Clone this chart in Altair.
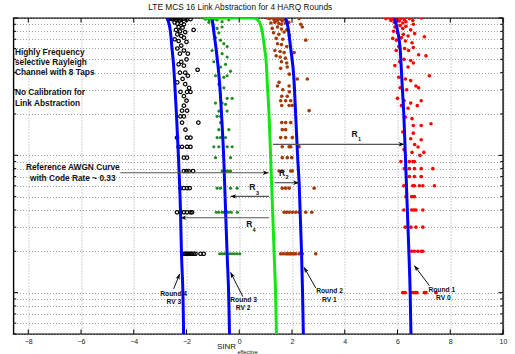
import altair as alt
import pandas as pd

# ---------------- data ----------------
x_ticks = [-8, -6, -4, -2, 0, 2, 4, 6, 8, 10]
y_grid = [0.005, 0.006, 0.007, 0.008, 0.009,
          0.01, 0.02, 0.03, 0.04, 0.05, 0.06, 0.07, 0.08, 0.09,
          0.1, 0.2, 0.3, 0.4, 0.5, 0.6, 0.7, 0.8, 0.9, 1.0]
y_decades = [0.01, 0.1, 1.0]

# Round 1 (RV 0) simulated points (red)
r1_upper = [(5.56, 0.99), (5.69, 1.0), (5.75, 0.96), (5.82, 0.98), (5.88, 0.93), (5.94, 1.0), (6.0, 0.97),
            (6.07, 0.95), (6.13, 0.99), (6.2, 0.92), (6.26, 0.97), (6.32, 0.94), (6.45, 0.99), (6.58, 0.96),
            (6.9, 1.0), (5.9, 0.86), (6.1, 0.88), (6.2, 0.84), (6.32, 0.87), (6.5, 0.82), (6.6, 0.9),
            (5.85, 0.80), (6.0, 0.78), (6.22, 0.76), (6.4, 0.74), (6.65, 0.77), (7.02, 0.73), (5.82, 0.71),
            (5.96, 0.69), (6.15, 0.72), (6.3, 0.68), (6.55, 0.66), (6.05, 0.62), (6.27, 0.60), (6.42, 0.58),
            (6.6, 0.61), (5.95, 0.58), (6.8, 0.54), (7.08, 0.53), (6.25, 0.50), (6.5, 0.49), (6.6, 0.47),
            (5.9, 0.45), (6.08, 0.48), (6.4, 0.44), (7.21, 0.38), (6.05, 0.37), (6.3, 0.36), (6.5, 0.35),
            (6.7, 0.32), (6.8, 0.31), (6.1, 0.31), (6.35, 0.30), (6.0, 0.26), (6.25, 0.25), (6.5, 0.24),
            (6.75, 0.23), (6.9, 0.25), (6.15, 0.23), (6.4, 0.22), (6.3, 0.19), (6.55, 0.185), (7.27, 0.17),
            (6.9, 0.165), (6.6, 0.165), (6.2, 0.148), (6.6, 0.145), (6.5, 0.132), (6.9, 0.13), (6.65, 0.12),
            (6.78, 0.115), (6.25, 0.11), (7.0, 0.105), (6.55, 0.105), (6.85, 0.10)]
r1_rows = {
    0.09: [6.13, 6.45, 6.58, 6.64],
    0.08: [6.26, 6.45, 6.64, 6.9, 7.34],
    0.07: [6.45, 6.64, 6.9],
    0.06: [6.24, 6.58, 6.64, 6.83, 6.96, 7.4],
    0.05: [6.32, 6.54, 6.64],
    0.04: [6.24, 6.54, 6.62, 6.7, 6.96],
    0.03: [6.29, 6.51, 6.7, 6.96],
    0.02: [6.54, 6.64, 6.77, 6.9, 6.96],
    0.01: [6.2, 6.29, 6.51, 6.6, 6.68, 6.74, 7.02, 7.08, 7.46],
}

# Round 2 (RV 1) simulated points (brown)
r2_upper = [(1.06, 1.0), (1.15, 0.99), (1.25, 1.0), (1.32, 0.97), (1.38, 0.99), (1.45, 0.96), (1.51, 1.0),
            (1.57, 0.98), (1.63, 0.95), (1.7, 0.99), (1.76, 0.97), (2.27, 0.99), (1.2, 0.92), (1.35, 0.93),
            (1.5, 0.91), (1.6, 0.9), (1.75, 0.92), (1.88, 0.93), (2.33, 0.9), (2.39, 0.86), (1.25, 0.84),
            (1.45, 0.86), (1.6, 0.83), (1.8, 0.82), (1.3, 0.78), (1.5, 0.76), (1.7, 0.79), (1.9, 0.75),
            (1.4, 0.71), (1.65, 0.70), (2.52, 0.69), (1.45, 0.65), (1.6, 0.64), (1.8, 0.62), (1.35, 0.58),
            (1.55, 0.57), (1.7, 0.56), (2.08, 0.56), (1.4, 0.53), (1.55, 0.52), (1.75, 0.51), (1.6, 0.48),
            (1.8, 0.47), (1.57, 0.43), (1.82, 0.44), (1.9, 0.39), (2.2, 0.36), (2.58, 0.36), (1.51, 0.34),
            (1.45, 0.32), (1.89, 0.32), (1.65, 0.30), (1.9, 0.29)]
r2_rows = {
    0.2692: [1.61, 1.82],
    0.25: [1.57, 1.76, 1.95],
    0.2308: [1.61, 1.89, 2.01],
    0.2115: [2.65],
    0.1731: [1.61, 1.76, 1.95],
    0.1538: [1.63, 1.76],
    0.1346: [1.57, 1.76, 2.01],
    0.1154: [1.63, 1.89, 1.95, 2.27],
    0.0962: [1.63, 1.82, 1.99],
    0.0769: [1.51, 1.63, 1.95, 2.01],
    0.0577: [1.63, 1.76, 1.89, 2.84],
    0.0385: [1.7, 1.79, 1.89, 2.01, 2.14, 2.27, 2.52, 2.75],
    0.0192: [1.57, 1.66, 1.76, 1.83, 1.89, 1.95, 2.01, 2.08, 2.14, 2.27, 2.39, 2.9],
}

# Round 3 (RV 2) simulated points (green)
r3_upper = [(-1.34, 1.0), (-1.28, 0.98), (-1.22, 1.0), (-1.15, 0.97), (-1.09, 0.99), (-1.03, 0.96),
            (-0.965, 1.0), (-0.9, 0.98), (-0.84, 0.97), (-0.65, 0.94), (-0.395, 0.97), (-1.15, 0.93),
            (-1.0, 0.90), (-0.965, 0.86), (-0.84, 0.84), (-0.65, 0.86), (-0.775, 0.78), (-0.9, 0.72),
            (-0.71, 0.69), (-0.585, 0.65), (-0.46, 0.62), (-1.03, 0.58), (-0.65, 0.55), (-0.46, 0.52),
            (-0.965, 0.48), (-0.71, 0.44), (-0.52, 0.46), (-0.33, 0.41), (-0.9, 0.38), (-0.585, 0.37),
            (-0.46, 0.38), (-0.775, 0.33), (-0.585, 0.31), (-0.71, 0.28), (-0.46, 0.26), (-0.27, 0.26),
            (-0.65, 0.24), (-0.52, 0.235), (-0.9, 0.24), (-0.46, 0.21), (-0.775, 0.21)]
r3_rows = {
    0.1923: [-0.84, -0.71],
    0.1731: [-0.71],
    0.1538: [-0.775, -0.395],
    0.1346: [-0.84, -0.71, -0.52],
    0.1154: [-0.965, -0.776, -0.457, -0.27],
    0.0962: [-0.9, -0.33],
    0.0769: [-0.65, -0.59, -0.52, -0.46, -0.395, -0.33],
    0.0577: [-0.84, -0.71, -0.33, -0.08],
    0.0385: [-0.87, -0.775, -0.65, -0.585, -0.46, -0.395, -0.3, -0.07],
    0.0192: [-0.74, -0.65, -0.56, -0.46, -0.36, -0.27, -0.18, -0.08, 0.02],
}

# Round 4 (RV 3) simulated points (black circles)
r4_upper = [(-2.7, 1.0), (-2.65, 0.99), (-2.6, 1.0), (-2.55, 0.98), (-2.5, 0.99), (-2.45, 1.0), (-2.4, 0.97),
            (-2.35, 0.99), (-2.3, 1.0), (-2.25, 0.96), (-2.2, 0.98), (-2.1, 0.99), (-2.0, 0.97),
            (-1.85, 0.98), (-2.45, 0.93), (-2.35, 0.91), (-2.2, 0.92), (-2.1, 0.90), (-2.3, 0.86),
            (-2.15, 0.85), (-1.73, 0.82), (-2.4, 0.82), (-2.25, 0.80), (-2.05, 0.79), (-2.35, 0.76),
            (-2.2, 0.74), (-2.1, 0.72), (-2.45, 0.70), (-2.3, 0.68), (-2.0, 0.67), (-2.2, 0.63),
            (-2.35, 0.60), (-2.1, 0.58), (-2.25, 0.55), (-1.95, 0.55), (-2.0, 0.50), (-2.2, 0.48),
            (-2.3, 0.46), (-2.1, 0.45), (-1.58, 0.42), (-2.25, 0.40), (-2.05, 0.40), (-1.95, 0.38),
            (-2.15, 0.36), (-2.35, 0.34), (-2.05, 0.33), (-1.9, 0.31), (-2.23, 0.29), (-1.98, 0.29),
            (-1.85, 0.29), (-2.1, 0.27), (-2.0, 0.25), (-2.1, 0.23)]
r4_rows = {
    0.2115: [-2.17, -1.98],
    0.1923: [-2.23, -2.1],
    0.1731: [-2.17, -1.55],
    0.1538: [-2.04],
    0.1346: [-2.36, -1.98, -1.85],
    0.1154: [-2.3, -2.17, -1.98, -1.85],
    0.0962: [-2.1, -1.98],
    0.0769: [-2.1, -2.0, -1.92, -1.75],
    0.0577: [-2.23, -2.1, -1.98, -1.88],
    0.0385: [-2.36, -2.23, -2.1, -1.98, -1.85, -1.79],
    0.0192: [-2.1, -2.05, -2.0, -1.95, -1.9, -1.85, -1.8, -1.73, -1.66, -1.47, -1.35],
}

# Link-abstraction curves (blue) and AWGN reference (green)
curve_r1 = [(5.88, 1.0), (6.01, 0.795), (6.10, 0.6), (6.17, 0.343), (6.24, 0.196), (6.29, 0.11),
            (6.36, 0.047), (6.43, 0.02), (6.48, 0.01), (6.51, 0.005)]
curve_r2 = [(1.76, 1.0), (1.85, 0.85), (1.95, 0.6), (2.08, 0.343), (2.14, 0.196), (2.21, 0.1),
            (2.27, 0.063), (2.36, 0.02), (2.40, 0.01), (2.43, 0.005)]
curve_r3 = [(-1.03, 1.0), (-0.965, 0.795), (-0.88, 0.6), (-0.81, 0.455), (-0.75, 0.343), (-0.67, 0.196),
            (-0.585, 0.092), (-0.52, 0.04), (-0.46, 0.019), (-0.395, 0.0087), (-0.37, 0.005)]
curve_r4 = [(-2.74, 1.0), (-2.61, 0.795), (-2.55, 0.6), (-2.49, 0.455), (-2.45, 0.343), (-2.38, 0.196),
            (-2.30, 0.092), (-2.23, 0.04), (-2.19, 0.019), (-2.13, 0.0087), (-2.11, 0.005)]
curve_awgn = [(-1.35, 1.0), (0.55, 1.0), (0.7, 0.97), (0.8, 0.9), (0.87, 0.795), (0.96, 0.6), (1.03, 0.455),
              (1.06, 0.343), (1.13, 0.196), (1.18, 0.11), (1.25, 0.047), (1.32, 0.02), (1.38, 0.0093),
              (1.41, 0.005)]

# Annotation arrows: (x_tail, bler_tail, x_head, bler_head, head angle)
h_arrows = [(-4.51, 0.0747, 1.11, 0.0747, 90),
            (1.278, 0.1203, 6.259, 0.1203, 90),
            (1.342, 0.0632, 2.266, 0.0632, 90),
            (1.125, 0.0502, -0.331, 0.0502, 270),
            (1.125, 0.0351, -2.232, 0.0351, 270)]
round_arrows = [(-2.487, 0.01065, -2.259, 0.0137, 22),
                (0.137, 0.00935, -0.331, 0.01406, 333),
                (2.901, 0.01082, 2.456, 0.0153, 330),
                (7.209, 0.01125, 6.639, 0.01574, 323)]

left_texts = [("Highly Frequency", -8.506, 0.552), ("selective Rayleigh", -8.506, 0.467),
              ("Channel with 8 Taps", -8.506, 0.395), ("No Calibration for", -8.506, 0.282),
              ("Link Abstraction", -8.506, 0.238)]
ref_texts = [("Reference AWGN Curve", -6.312, 0.0808), ("with Code Rate ~ 0.33", -6.312, 0.0676)]
r_labels = [("R", 4.373, 0.144), ("R", 1.62, 0.0747), ("R", 0.494, 0.0587), ("R", 0.38, 0.0317)]
r_subs = [("1", 4.56, 0.1324), ("2", 1.81, 0.0695), ("3", 0.69, 0.0531), ("4", 0.56, 0.0287)]
round_texts = [("Round 4", -2.487, 0.00978), ("RV 3", -2.48, 0.0085),
               ("Round 3", 0.164, 0.00885), ("RV 2", 0.15, 0.00768),
               ("Round 2", 3.422, 0.01022), ("RV 1", 3.42, 0.00885),
               ("Round 1", 7.68, 0.01046), ("RV 0", 7.74, 0.00915)]
title_text = "LTE MCS 16 Link Abstraction for 4 HARQ Rounds"

# ---------------- build tables ----------------
def pts(upper, rows):
    recs = [{"snr": s, "bler": b} for s, b in upper]
    for b, xs in rows.items():
        recs += [{"snr": s, "bler": b} for s in xs]
    return pd.DataFrame(recs)

def curve(c):
    return pd.DataFrame([{"snr": s, "bler": b, "o": i} for i, (s, b) in enumerate(c)])

def texts(t):
    return pd.DataFrame([{"label": l, "snr": s, "bler": b} for l, s, b in t])

W, H = 489.5, 316
FONT = "Liberation Sans"

xscale = alt.Scale(domain=[-8.56, 10], nice=False, zero=False)
yscale = alt.Scale(type="log", domain=[0.005, 1], nice=False)
xaxis = alt.Axis(values=x_ticks, format="d", grid=True, gridDash=[1, 2], gridColor="#8a8a8a",
                 gridWidth=0.8, tickSize=0, domain=False, labelFontSize=7, labelFont=FONT,
                 labelColor="#222", labelPadding=3, title=None, labelFlush=False)
yaxis = alt.Axis(values=y_grid, grid=True, gridDash=[1, 2], gridColor="#8a8a8a", gridWidth=0.8,
                 labels=False, ticks=False, domain=False, title=None)
X = alt.X("snr:Q", scale=xscale, axis=xaxis)
Y = alt.Y("bler:Q", scale=yscale, axis=yaxis)

layers = []

# scatter
layers.append(alt.Chart(pts(r4_upper, r4_rows)).mark_point(shape="circle", filled=False, color="black",
              size=12, strokeWidth=1.2, clip=True, opacity=1).encode(x=X, y=Y))
layers.append(alt.Chart(pts(r3_upper, r3_rows)).mark_point(shape="circle", filled=True, color="#1e8c1e",
              size=10, clip=True, opacity=1).encode(x=X, y=Y))
layers.append(alt.Chart(pts(r2_upper, r2_rows)).mark_point(shape="circle", filled=True, color="#a33a08",
              size=13, clip=True, opacity=1).encode(x=X, y=Y))
layers.append(alt.Chart(pts(r1_upper, r1_rows)).mark_point(shape="circle", filled=True, color="#ff0000",
              size=13, clip=True, opacity=1).encode(x=X, y=Y))

# curves
for c in [curve_r1, curve_r2, curve_r3, curve_r4]:
    layers.append(alt.Chart(curve(c)).mark_line(color="#0000ff", strokeWidth=3, clip=True,
                  interpolate="monotone").encode(x=X, y=Y, order="o:Q"))
layers.append(alt.Chart(curve(curve_awgn)).mark_line(color="#14e614", strokeWidth=3, clip=True,
              interpolate="monotone").encode(x=X, y=Y, order="o:Q"))

# arrows
ha = pd.DataFrame([{"snr": a, "bler": b, "snr2": c, "bler2": d, "ang": e} for a, b, c, d, e in h_arrows])
ra = pd.DataFrame([{"snr": a, "bler": b, "snr2": c, "bler2": d, "ang": e} for a, b, c, d, e in round_arrows])
layers.append(alt.Chart(ha).mark_rule(color="#555", strokeWidth=1.2).encode(
    x=X, y=Y, x2="snr2:Q", y2="bler2:Q"))
layers.append(alt.Chart(ra).mark_rule(color="#111", strokeWidth=1).encode(
    x=X, y=Y, x2="snr2:Q", y2="bler2:Q"))
head = "M0,0L-0.8,2.1L0,1.5L0.8,2.1Z"
for df in (ha, ra):
    layers.append(alt.Chart(df).mark_point(shape=head, filled=True, color="black", size=30,
                  opacity=1).encode(
        x=alt.X("snr2:Q", scale=xscale, axis=xaxis), y=alt.Y("bler2:Q", scale=yscale, axis=yaxis),
        angle=alt.Angle("ang:Q", scale=None)))

# texts
layers.append(alt.Chart(texts(left_texts)).mark_text(align="left", baseline="middle", font=FONT,
              fontSize=8.3, fontWeight="bold", color="#111").encode(x=X, y=Y, text="label:N"))
layers.append(alt.Chart(texts(ref_texts)).mark_text(align="center", baseline="middle", font=FONT,
              fontSize=8.3, fontWeight="bold", color="#111").encode(x=X, y=Y, text="label:N"))
layers.append(alt.Chart(texts(r_labels)).mark_text(align="center", baseline="middle", font=FONT,
              fontSize=8.5, fontWeight="bold", color="#111").encode(x=X, y=Y, text="label:N"))
layers.append(alt.Chart(texts(r_subs)).mark_text(align="center", baseline="middle", font=FONT,
              fontSize=5.5, fontWeight="bold", color="#111").encode(x=X, y=Y, text="label:N"))
layers.append(alt.Chart(texts(round_texts)).mark_text(align="center", baseline="middle", font=FONT,
              fontSize=6.7, fontWeight="bold", color="#111").encode(x=X, y=Y, text="label:N"))

# title and x label
layers.append(alt.Chart(pd.DataFrame([{"label": title_text, "snr": 0.038}])).mark_text(
    align="center", baseline="middle", font=FONT, fontSize=8.3, color="#111").encode(
    x=X, y=alt.value(-10), text="label:N"))
layers.append(alt.Chart(pd.DataFrame([{"label": "SINR", "snr": -0.48}])).mark_text(
    align="center", baseline="middle", font=FONT, fontSize=8, color="#111").encode(
    x=X, y=alt.value(H + 12.7), text="label:N"))
layers.append(alt.Chart(pd.DataFrame([{"label": "effective", "snr": -0.07}])).mark_text(
    align="left", baseline="middle", font=FONT, fontSize=5.5, color="#111").encode(
    x=X, y=alt.value(H + 17.5), text="label:N"))

# inward ticks
xt = pd.DataFrame({"snr": x_ticks})
layers.append(alt.Chart(xt).mark_rule(color="black", strokeWidth=1).encode(
    x=X, y=alt.value(H - 4.5), y2=alt.value(H)))
layers.append(alt.Chart(xt).mark_rule(color="black", strokeWidth=1).encode(
    x=X, y=alt.value(0), y2=alt.value(4.5)))
ymin = pd.DataFrame({"bler": [v for v in y_grid if v not in y_decades]})
ymaj = pd.DataFrame({"bler": y_decades})
for df, ln in ((ymin, 2.7), (ymaj, 4.5)):
    layers.append(alt.Chart(df).mark_rule(color="black", strokeWidth=1).encode(
        y=Y, x=alt.value(0), x2=alt.value(ln)))
    layers.append(alt.Chart(df).mark_rule(color="black", strokeWidth=1).encode(
        y=Y, x=alt.value(W - ln), x2=alt.value(W)))

chart = alt.layer(*layers).properties(
    width=W, height=H,
    autosize=alt.AutoSizeParams(type="none"),
    padding={"left": 13.5, "top": 18, "right": 12, "bottom": 20},
    background="white",
).configure_view(stroke="black", strokeWidth=1.4)

chart.save("out.html", embed_options={"renderer": "svg", "actions": False})
